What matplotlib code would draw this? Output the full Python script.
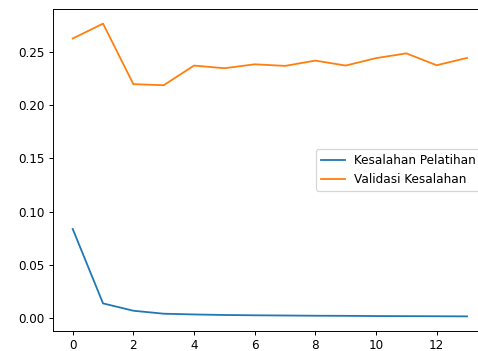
import matplotlib
matplotlib.use("Agg")
import matplotlib.pyplot as plt

epochs = list(range(14))
train_loss = [0.0836, 0.0135, 0.0066, 0.0038, 0.0031, 0.0026, 0.0023, 0.0021,
              0.0019, 0.0018, 0.0016, 0.0015, 0.0014, 0.0013]
val_loss = [0.263, 0.277, 0.220, 0.219, 0.2375, 0.235, 0.2387, 0.2372,
            0.2422, 0.2375, 0.2445, 0.249, 0.2378, 0.2447]

dpi = 86.4
fig = plt.figure(figsize=(478 / dpi, 351 / dpi), dpi=dpi)
# the original was cropped on the right, so the axes run past the canvas edge
ax = fig.add_axes([53 / 478, 20 / 351, 433.7 / 478, 322 / 351])

ax.plot(epochs, train_loss, label="Kesalahan Pelatihan")
ax.plot(epochs, val_loss, label="Validasi Kesalahan")
ax.legend(loc="center right")
ax.spines["right"].set_visible(False)

fig.savefig("out.png", dpi=dpi)
